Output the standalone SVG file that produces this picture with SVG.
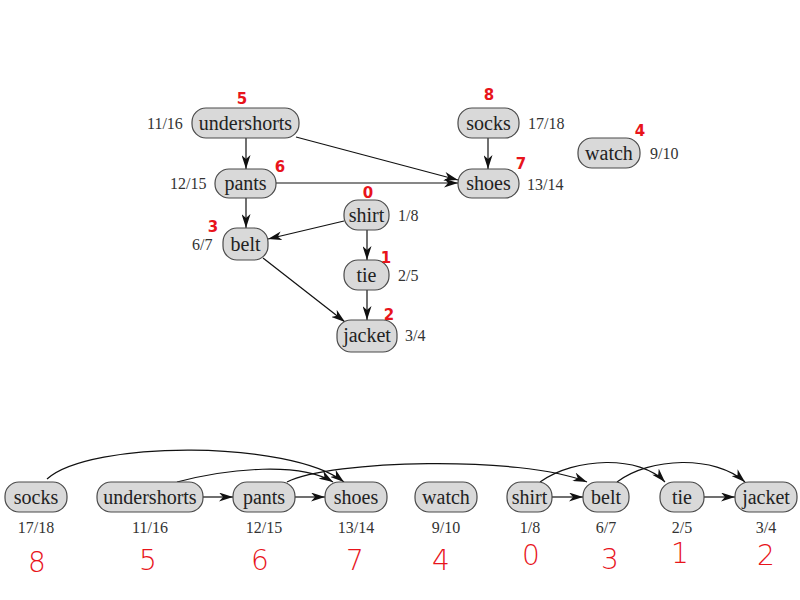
<svg xmlns="http://www.w3.org/2000/svg" width="800" height="600" viewBox="0 0 800 600">
<style>
.n rect{fill:#d9d9d9;stroke:#4a4a4a;stroke-width:1.2}
.n text{font-family:"Liberation Serif",serif;font-size:20px;fill:#222;text-anchor:middle}
.lbl{font-family:"Liberation Serif",serif;font-size:16px;fill:#333}
.red{font-family:"DejaVu Sans",sans-serif;fill:#e8141b;text-anchor:middle}
.rs{font-size:15px;font-weight:bold}
.rb{font-size:28px;font-weight:200}
.e path{fill:none;stroke:#111;stroke-width:1.2;marker-end:url(#a)}
</style>
<defs>
<marker id="a" viewBox="0 0 14 9" refX="14" refY="4.5" markerWidth="14" markerHeight="9" markerUnits="userSpaceOnUse" orient="auto">
<path d="M0,0 L14,4.5 L0,9 L4,4.5 z" fill="#111"/>
</marker>
</defs>
<rect width="800" height="600" fill="#fff"/>

<!-- top connectors -->
<g class="e" id="edges-top">
<path d="M246,138 L246,169"/>
<path d="M296,137 L458,180"/>
<path d="M488,138 L488,169"/>
<path d="M276,183 L458,183"/>
<path d="M246,198 L246,228"/>
<path d="M344,221 L268,239"/>
<path d="M367,230 L367,260"/>
<path d="M263,258 L345,322"/>
<path d="M367,290 L367,320"/>
</g>

<!-- top nodes -->
<g class="n" id="t-undershorts"><rect x="192" y="108" width="107" height="30" rx="14"/><text x="245.5" y="130">undershorts</text></g>
<g class="n" id="t-socks"><rect x="458" y="108" width="61" height="30" rx="14"/><text x="488.5" y="130">socks</text></g>
<g class="n" id="t-pants"><rect x="215" y="169" width="61" height="29" rx="14"/><text x="245.5" y="190">pants</text></g>
<g class="n" id="t-shoes"><rect x="458" y="169" width="61" height="29" rx="14"/><text x="488.5" y="190">shoes</text></g>
<g class="n" id="t-watch"><rect x="578" y="138" width="62" height="30" rx="14"/><text x="609" y="160">watch</text></g>
<g class="n" id="t-shirt"><rect x="344" y="200" width="45" height="30" rx="14"/><text x="366.5" y="222">shirt</text></g>
<g class="n" id="t-belt"><rect x="223" y="228" width="45" height="32" rx="14"/><text x="245.5" y="251">belt</text></g>
<g class="n" id="t-tie"><rect x="344" y="260" width="45" height="30" rx="14"/><text x="366.5" y="282">tie</text></g>
<g class="n" id="t-jacket"><rect x="337" y="320" width="60" height="32" rx="14"/><text x="367" y="342">jacket</text></g>

<!-- top labels -->
<g id="top-labels" class="lbl">
<text x="147" y="129">11/16</text>
<text x="528" y="129">17/18</text>
<text x="170" y="189">12/15</text>
<text x="527" y="190">13/14</text>
<text x="650" y="159">9/10</text>
<text x="398" y="221">1/8</text>
<text x="192" y="250">6/7</text>
<text x="398" y="281">2/5</text>
<text x="405" y="341">3/4</text>
</g>
<g id="top-red" class="red rs">
<text x="242" y="104">5</text>
<text x="489" y="100">8</text>
<text x="280" y="172">6</text>
<text x="521" y="169">7</text>
<text x="368" y="198">0</text>
<text x="213" y="232">3</text>
<text x="386" y="263">1</text>
<text x="389" y="320">2</text>
<text x="640" y="136">4</text>
</g>

<!-- bottom connectors -->
<g class="e" id="edges-bottom">
<path d="M203,497 L233,497"/>
<path d="M295,497 L325,497"/>
<path d="M552,497 L583,497"/>
<path d="M704,497 L735,497"/>
<path d="M47,479 C90,440 290,440 344,482"/>
<path d="M177,482 C230,468 300,462 333,482"/>
<path d="M287,482 C330,460 520,455 587,482"/>
<path d="M540,482 C575,457 640,455 665,482"/>
<path d="M617,482 C650,457 715,455 745,482"/>
</g>

<!-- bottom nodes -->
<g class="n" id="b-socks"><rect x="5" y="482" width="62" height="30" rx="14"/><text x="36" y="504">socks</text></g>
<g class="n" id="b-undershorts"><rect x="97" y="482" width="106" height="30" rx="14"/><text x="150" y="504">undershorts</text></g>
<g class="n" id="b-pants"><rect x="233" y="482" width="62" height="30" rx="14"/><text x="264" y="504">pants</text></g>
<g class="n" id="b-shoes"><rect x="325" y="482" width="62" height="30" rx="14"/><text x="356" y="504">shoes</text></g>
<g class="n" id="b-watch"><rect x="415" y="482" width="62" height="30" rx="14"/><text x="446" y="504">watch</text></g>
<g class="n" id="b-shirt"><rect x="507" y="482" width="45" height="30" rx="14"/><text x="529.5" y="504">shirt</text></g>
<g class="n" id="b-belt"><rect x="583" y="482" width="46" height="30" rx="14"/><text x="606" y="504">belt</text></g>
<g class="n" id="b-tie"><rect x="660" y="482" width="44" height="30" rx="14"/><text x="682" y="504">tie</text></g>
<g class="n" id="b-jacket"><rect x="735" y="482" width="62" height="30" rx="14"/><text x="766" y="504">jacket</text></g>

<g id="bottom-labels" class="lbl" text-anchor="middle">
<text x="36" y="533">17/18</text>
<text x="150" y="533">11/16</text>
<text x="264" y="533">12/15</text>
<text x="356" y="533">13/14</text>
<text x="446" y="533">9/10</text>
<text x="530" y="533">1/8</text>
<text x="606" y="533">6/7</text>
<text x="682" y="533">2/5</text>
<text x="766" y="533">3/4</text>
</g>
<g id="bottom-red" class="red rb">
<text x="37" y="572">8</text>
<text x="148" y="570">5</text>
<text x="260" y="570">6</text>
<text x="355" y="570">7</text>
<text x="441" y="570">4</text>
<text x="531" y="565">0</text>
<text x="610" y="569">3</text>
<text x="680" y="563">1</text>
<text x="766" y="565">2</text>
</g>
</svg>
